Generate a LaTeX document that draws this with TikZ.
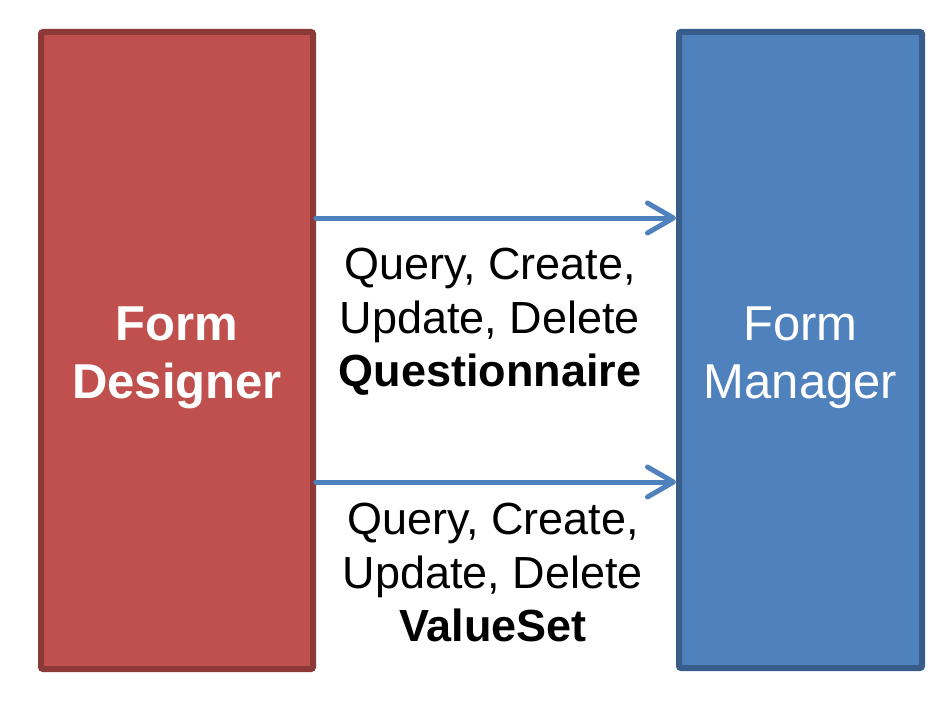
\documentclass[tikz,border=0pt]{standalone}
\usepackage{fontspec}
\setmainfont{Liberation Sans}
\usetikzlibrary{arrows.meta}
\definecolor{redfill}{HTML}{C0504D}
\definecolor{redline}{HTML}{8C3A38}
\definecolor{bluefill}{HTML}{4F81BD}
\definecolor{blueline}{HTML}{385D8A}
\tikzset{
  box/.style={draw, line width=6pt, rounded corners=2pt, inner sep=0pt, outer sep=3pt},
  boxtext/.style={align=center, inner sep=0pt, text=white, font=\fontsize{49}{58}\selectfont},
  lbl/.style={align=center, inner sep=0pt, font=\fontsize{45}{53.5}\selectfont},
  arr/.style={draw=bluefill, line width=5pt, line cap=round,
    -{Straight Barb[length=26pt,width=30pt,line width=5pt,round]}}
}
\begin{document}
\begin{tikzpicture}[x=1pt,y=-1pt]
\useasboundingbox (0,0) rectangle (945,709);
\node[box, fill=redfill, draw=redline, minimum width=272pt, minimum height=637pt]
  (L) at (177,350.5) {};
\node[box, fill=bluefill, draw=blueline, minimum width=243pt, minimum height=636pt]
  (R) at (800.5,350) {};
\node[boxtext] (Lt) at (177,358) {\textbf{Form}\\\textbf{Designer}};
\node[boxtext] (Rt) at (800.5,358) {Form\\Manager};
\coordinate (y1) at (0,218);
\coordinate (y2) at (0,482);
\draw[arr] (L.east |- y1) -- (R.west |- y1);
\draw[arr] (L.east |- y2) -- (R.west |- y2);
\node[lbl] (t1) at (490,322) {Query, Create,\\Update, Delete\\\textbf{Questionnaire}};
\node[lbl] (t2) at (493,573) {Query, Create,\\Update, Delete\\\textbf{ValueSet}};
\end{tikzpicture}
\end{document}
